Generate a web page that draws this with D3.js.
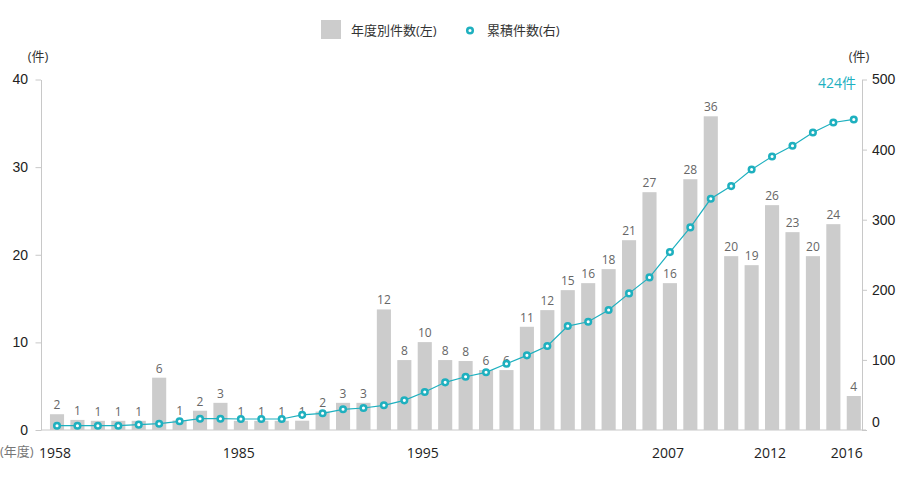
<!DOCTYPE html>
<html lang="ja">
<head>
<meta charset="utf-8">
<script src="https://cdn.jsdelivr.net/npm/d3@7"></script>
<style>
  body { margin: 0; background: #fff; }
  svg { display: block; font-family: "Open Sans", "Noto Sans CJK JP", sans-serif; }
  .axis path, .axis line { stroke: #c8c8c8; }
  .axis text { fill: #222; font-size: 14px; }
</style>
</head>
<body>
<div id="chart"></div>
<script>
// Fiscal years shown as bars (only years with cases; early ones are sparse)
const years = [
  1958, 1962, 1966, 1969, 1972, 1975, 1978, 1981, 1983, 1985,
  1986, 1987, 1988, 1989, 1990, 1991, 1993, 1994, 1995, 1996,
  1997, 1998, 1999, 2000, 2001, 2002, 2003, 2004, 2005, 2006,
  2007, 2008, 2009, 2010, 2011, 2012, 2013, 2014, 2015, 2016
];
// Numbers printed above the bars
const counts = [
  2, 1, 1, 1, 1, 6, 1, 2, 3, 1,
  1, 1, 1, 2, 3, 3, 12, 8, 10, 8,
  8, 6, 6, 11, 12, 15, 16, 18, 21, 27,
  16, 28, 36, 20, 19, 26, 23, 20, 24, 4
];
// Bar heights as drawn in the original (left axis)
const barHeights = [
  1.8, 1.15, 1.05, 1.05, 1.05, 5.97, 1.1, 2.2, 3.1, 1.05,
  1.05, 1.05, 1.06, 2.1, 3.1, 3.1, 13.76, 7.98, 10.03, 7.98,
  7.87, 6.84, 6.84, 11.78, 13.68, 15.96, 16.76, 18.36, 21.66, 27.14,
  16.76, 28.62, 35.8, 19.84, 18.81, 25.66, 22.58, 19.84, 23.49, 3.88
];
// Cumulative cases as drawn (right axis)
const cumulative = [
  6.1, 6.1, 6.1, 6.1, 7.6, 9, 12.4, 16.1, 16.1, 15.7,
  15.7, 15.7, 21.6, 23.8, 29.5, 31.4, 35.2, 42.3, 54.2, 68,
  76, 82.3, 94.5, 106.5, 119.8, 148.3, 154.4, 171.1, 194.9, 217.7,
  253.8, 289, 329.8, 347.9, 371.7, 390.2, 405.4, 424.4, 438.7, 443
];
const yearTicks = [1958, 1985, 1995, 2007, 2012, 2016];
const leftTicks = [0, 10, 20, 30, 40];
const rightTicks = [0, 100, 200, 300, 400, 500];
const totalLabel = "424件";

const W = 899, H = 477;
const teal = "#1eb0bf";
const barColor = "#cccccc";
const plot = { left: 41, right: 862, top: 79.5, bottom: 430 };

const svg = d3.select("#chart").append("svg")
  .attr("width", W)
  .attr("height", H);

const x = d3.scaleBand()
  .domain(years)
  .range([46.8, 864])
  .paddingInner(0.31)
  .paddingOuter(0.155);

const yL = d3.scaleLinear().domain([0, 40]).range([plot.bottom, plot.top]);
const yR = d3.scaleLinear().domain([0, 500]).range([plot.bottom, plot.top]);

// Axes
svg.append("g")
  .attr("class", "axis")
  .attr("transform", `translate(${plot.left},0)`)
  .call(d3.axisLeft(yL).tickValues(leftTicks).tickSize(5.5).tickSizeOuter(0).tickPadding(7.5));

const rAxis = svg.append("g")
  .attr("class", "axis")
  .attr("transform", `translate(${plot.right},0)`)
  .call(d3.axisRight(yR).tickValues(rightTicks).tickSize(5).tickSizeOuter(0).tickPadding(5));
rAxis.selectAll("text").filter(d => d === 0).attr("dy", "-0.25em");

// baseline
svg.append("line")
  .attr("x1", plot.left).attr("x2", plot.right + 4)
  .attr("y1", yL(0)).attr("y2", yL(0))
  .attr("stroke", "#c8c8c8");

// Bars
svg.selectAll("rect.bar")
  .data(years)
  .enter()
  .append("rect")
  .attr("class", "bar")
  .attr("x", d => x(d))
  .attr("y", (d, i) => yL(barHeights[i]))
  .attr("width", x.bandwidth())
  .attr("height", (d, i) => yL(0) - yL(barHeights[i]))
  .attr("fill", barColor);

// Bar value labels
svg.selectAll("text.val")
  .data(years)
  .enter()
  .append("text")
  .attr("class", "val")
  .attr("x", d => x(d) + x.bandwidth() / 2)
  .attr("y", (d, i) => yL(barHeights[i]) - 5)
  .attr("text-anchor", "middle")
  .attr("font-size", 12)
  .attr("fill", "#666")
  .text((d, i) => counts[i]);

// Cumulative line
const line = d3.line()
  .x((d, i) => x(years[i]) + x.bandwidth() / 2)
  .y(d => yR(d));

svg.append("path")
  .datum(cumulative)
  .attr("fill", "none")
  .attr("stroke", teal)
  .attr("stroke-width", 1.2)
  .attr("d", line);

svg.selectAll("circle.pt")
  .data(cumulative)
  .enter()
  .append("circle")
  .attr("class", "pt")
  .attr("cx", (d, i) => x(years[i]) + x.bandwidth() / 2)
  .attr("cy", d => yR(d))
  .attr("r", 2.8)
  .attr("fill", "#fff")
  .attr("stroke", teal)
  .attr("stroke-width", 2.5);

// Year labels
svg.selectAll("text.year")
  .data(yearTicks)
  .enter()
  .append("text")
  .attr("class", "year")
  .attr("x", d => x(d) + x.bandwidth() / 2)
  .attr("y", 458)
  .attr("dx", (d, i) => i === yearTicks.length - 1 ? -7 : -2)
  .attr("text-anchor", "middle")
  .attr("font-size", 14)
  .attr("fill", "#222")
  .text(d => d);

svg.append("text")
  .attr("x", 0).attr("y", 456)
  .attr("font-size", 13).attr("fill", "#777")
  .text("(年度)");

// Unit labels
svg.append("text")
  .attr("x", 38).attr("y", 61)
  .attr("text-anchor", "middle")
  .attr("font-size", 13).attr("fill", "#333")
  .text("(件)");

svg.append("text")
  .attr("x", 859).attr("y", 61)
  .attr("text-anchor", "middle")
  .attr("font-size", 13).attr("fill", "#333")
  .text("(件)");

svg.append("text")
  .attr("x", 856).attr("y", 88)
  .attr("text-anchor", "end")
  .attr("font-size", 14).attr("fill", teal)
  .text(totalLabel);

// Legend
const legend = svg.append("g");
legend.append("rect")
  .attr("x", 321).attr("y", 20)
  .attr("width", 20).attr("height", 19)
  .attr("fill", barColor);
legend.append("text")
  .attr("x", 351).attr("y", 35)
  .attr("font-size", 13).attr("fill", "#333")
  .text("年度別件数(左)");
legend.append("circle")
  .attr("cx", 470).attr("cy", 30.5)
  .attr("r", 2.8)
  .attr("fill", "#fff")
  .attr("stroke", teal)
  .attr("stroke-width", 2.5);
legend.append("text")
  .attr("x", 487).attr("y", 35)
  .attr("font-size", 13).attr("fill", "#333")
  .text("累積件数(右)");
</script>
</body>
</html>
